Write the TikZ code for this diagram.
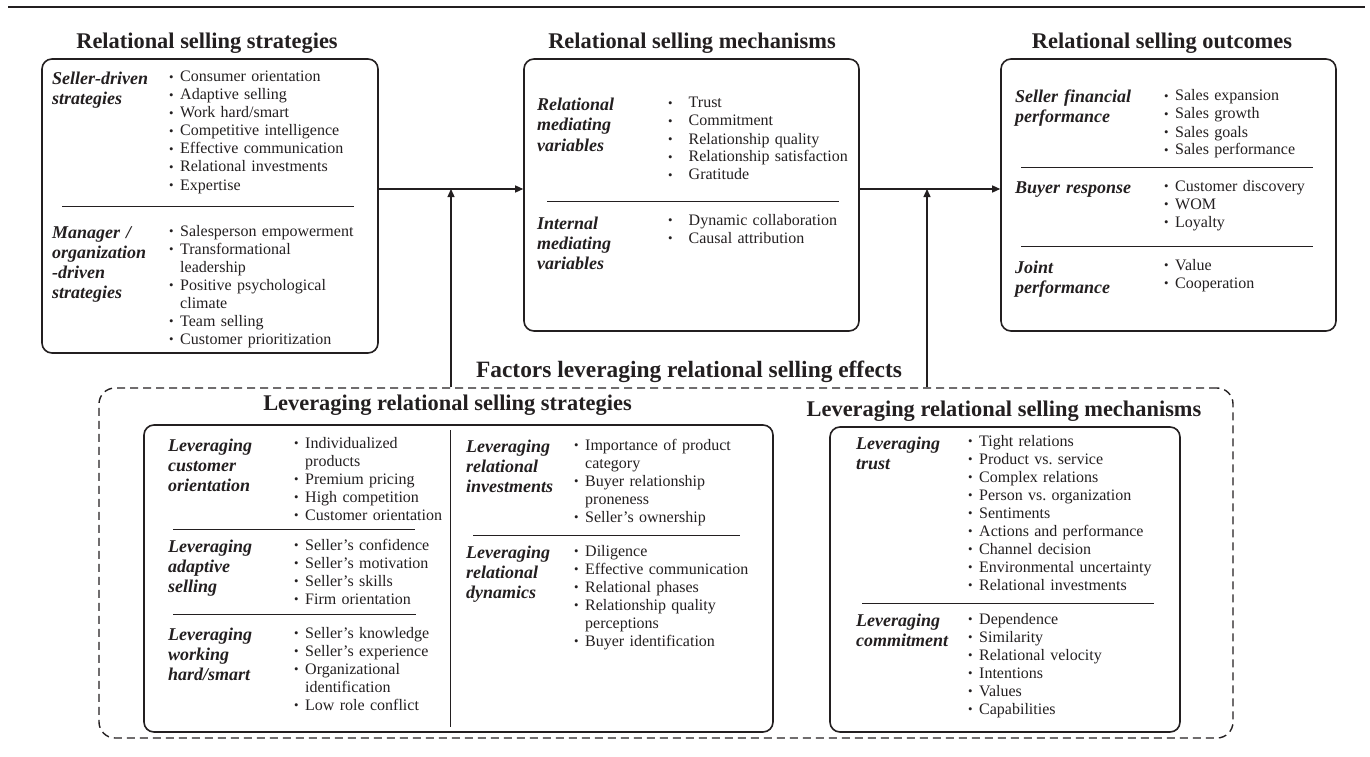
\documentclass[tikz,border=0pt]{standalone}
\usepackage{fontspec}
\setmainfont{Liberation Serif}
\usepackage{graphicx}
\usepackage{tikz}
\usetikzlibrary{arrows.meta}
\definecolor{ink}{RGB}{35,31,32}
\newcommand{\bl}{\makebox[11pt][l]{\raisebox{0.6pt}{\scalebox{0.8}{\textbullet}}}}
\newcommand{\blw}{\makebox[20.5pt][l]{\raisebox{0.6pt}{\scalebox{0.8}{\textbullet}}}}
\newcommand{\ind}{\hspace*{11pt}}

\begin{document}
\begin{tikzpicture}[x=1pt,y=-1pt,
    panel/.style={draw=ink,line width=1.6pt,rounded corners=10pt,inner sep=0pt},
    dashbox/.style={draw=ink,line width=1.4pt,dash pattern=on 8pt off 5pt,rounded corners=16pt,inner sep=0pt},
    head/.style={text=ink,inner sep=0pt,font=\fontsize{22.4}{26}\selectfont\bfseries},
    lbl/.style={anchor=base west,inner sep=0pt,text width=160pt,align=left,text=ink,font=\fontsize{18}{20}\selectfont\bfseries\itshape},
    items/.style={anchor=base west,inner sep=0pt,text width=260pt,align=left,text=ink,font=\fontsize{16}{18}\selectfont},
    rule/.style={draw=ink,line width=0.9pt},
    arr/.style={draw=ink,line width=1.3pt,-{Triangle[length=8pt,width=7pt]}}]

    \useasboundingbox (0,0) rectangle (1370,757);
    \draw[ink,line width=1.5pt] (8,7) -- (1365,7);

    \node[head] (h-strat) at (207,43)  {Relational selling strategies};
    \node[head] (h-mech)  at (692,43)  {Relational selling mechanisms};
    \node[head] (h-outc)  at (1162,43) {Relational selling outcomes};

    \node[panel,minimum width=336pt,minimum height=294pt] (strat) at (210,206)    {};
    \node[panel,minimum width=335pt,minimum height=272pt] (mech)  at (691.5,195)  {};
    \node[panel,minimum width=335pt,minimum height=272pt] (outc)  at (1168.5,195) {};

    \node[lbl]   (seller)  at (52,85)    {Seller-driven\\strategies};
    \node[items] (seller-l) at (169,82) {\bl Consumer orientation\\\bl Adaptive selling\\\bl Work hard/smart\\\bl Competitive intelligence\\\bl Effective communication\\\bl Relational investments\\\bl Expertise};
    \draw[rule] (62,206) -- (354,206);
    \node[lbl]   (manager) at (52,238)   {Manager /\\organization\\-driven\\strategies};
    \node[items] (manager-l) at (169,236) {\bl Salesperson empowerment\\\bl Transformational\\\ind leadership\\\bl Positive psychological\\\ind climate\\\bl Team selling\\\bl Customer prioritization};

    \node[lbl]   (relmed) at (537,111)   {Relational\\mediating\\variables};
    \node[items] (relmed-l) at (668,108) {\blw Trust\\\blw Commitment\\\blw Relationship quality\\\blw Relationship satisfaction\\\blw Gratitude};
    \draw[rule] (547,201) -- (839,201);
    \node[lbl]   (intmed) at (537,229)   {Internal\\mediating\\variables};
    \node[items] (intmed-l) at (668,225) {\blw Dynamic collaboration\\\blw Causal attribution};

    \node[lbl]   (finance) at (1015,103) {Seller financial\\performance};
    \node[items] (finance-l) at (1164,101) {\bl Sales expansion\\\bl Sales growth\\\bl Sales goals\\\bl Sales performance};
    \draw[rule] (1021,167) -- (1313,167);
    \node[lbl]   (buyer) at (1015,193)   {Buyer response};
    \node[items] (buyer-l) at (1164,191) {\bl Customer discovery\\\bl WOM\\\bl Loyalty};
    \draw[rule] (1021,246) -- (1313,246);
    \node[lbl]   (joint) at (1015,273)   {Joint\\performance};
    \node[items] (joint-l) at (1164,270) {\bl Value\\\bl Cooperation};

    \node[dashbox,minimum width=1134pt,minimum height=350pt] (factors) at (666,563) {};
    \node[head,font=\fontsize{23.4}{26}\selectfont\bfseries] (h-fact) at (689,372) {Factors leveraging relational selling effects};
    \node[head] (h-levstrat) at (447.5,405) {Leveraging relational selling strategies};
    \node[head] (h-levmech)  at (1004,411)  {Leveraging relational selling mechanisms};

    \node[panel,minimum width=629pt,minimum height=307pt] (levstrat) at (458.5,578.5) {};
    \node[panel,minimum width=350pt,minimum height=305pt] (levmech)  at (1005,579.5)  {};

    \node[lbl]   (custor) at (168,451)   {Leveraging\\customer\\orientation};
    \node[items] (custor-l) at (294,448) {\bl Individualized\\\ind products\\\bl Premium pricing\\\bl High competition\\\bl Customer orientation};
    \draw[rule] (173,529) -- (415,529);
    \node[lbl]   (adapt) at (168,552)    {Leveraging\\adaptive\\selling};
    \node[items] (adapt-l) at (294,550) {\bl Seller's confidence\\\bl Seller's motivation\\\bl Seller's skills\\\bl Firm orientation};
    \draw[rule] (173,614) -- (416,614);
    \node[lbl]   (hard) at (168,640)     {Leveraging\\working\\hard/smart};
    \node[items] (hard-l) at (294,638) {\bl Seller's knowledge\\\bl Seller's experience\\\bl Organizational\\\ind identification\\\bl Low role conflict};
    \draw[rule] (450,430) -- (450,727);
    \node[lbl]   (relinv) at (466,452)   {Leveraging\\relational\\investments};
    \node[items] (relinv-l) at (574,450) {\bl Importance of product\\\ind category\\\bl Buyer relationship\\\ind proneness\\\bl Seller's ownership};
    \draw[rule] (473,535) -- (740,535);
    \node[lbl]   (reldyn) at (466,558)   {Leveraging\\relational\\dynamics};
    \node[items] (reldyn-l) at (574,556) {\bl Diligence\\\bl Effective communication\\\bl Relational phases\\\bl Relationship quality\\\ind perceptions\\\bl Buyer identification};

    \node[lbl]   (trust) at (856,449)    {Leveraging\\trust};
    \node[items] (trust-l) at (968,446) {\bl Tight relations\\\bl Product vs.\ service\\\bl Complex relations\\\bl Person vs.\ organization\\\bl Sentiments\\\bl Actions and performance\\\bl Channel decision\\\bl Environmental uncertainty\\\bl Relational investments};
    \draw[rule] (862,603) -- (1154,603);
    \node[lbl]   (commit) at (856,626)   {Leveraging\\commitment};
    \node[items] (commit-l) at (968,624) {\bl Dependence\\\bl Similarity\\\bl Relational velocity\\\bl Intentions\\\bl Values\\\bl Capabilities};

    \coordinate (join1) at (451,189);
    \coordinate (join2) at (927,189);
    \draw[arr] (strat.east |- join1) -- (mech.west |- join1);
    \draw[arr] (mech.east |- join2) -- (outc.west |- join2);
    \draw[arr] (factors.north -| join1) -- (join1);
    \draw[arr] (factors.north -| join2) -- (join2);
  \end{tikzpicture}
\end{document}
